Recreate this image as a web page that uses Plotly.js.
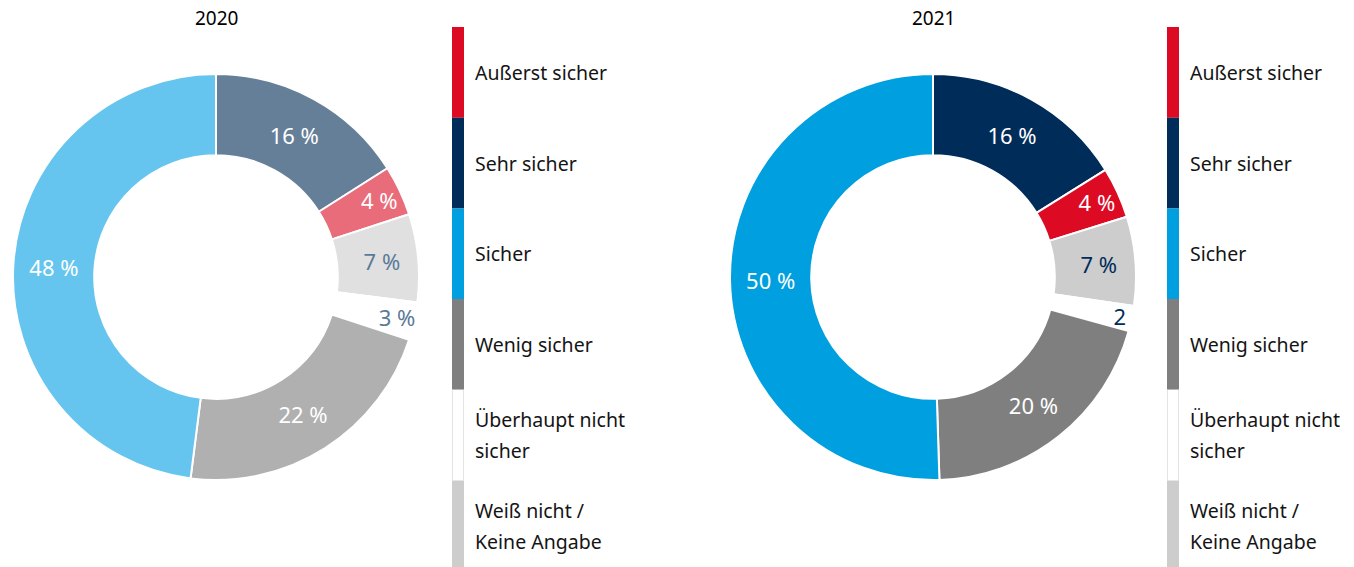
<!DOCTYPE html>
<html>
<head>
<meta charset="utf-8">
<script src="https://cdn.plot.ly/plotly-3.0.1.min.js"></script>
<style>
html,body{margin:0;padding:0;background:#fff;}
#chart{width:1354px;height:567px;}
</style>
</head>
<body>
<div id="chart"></div>
<script>
// ---- data ----
const years = ['2020', '2021'];
const sliceLabels = ['Sehr sicher', 'Außerst sicher', 'Weiß nicht / Keine Angabe', 'Überhaupt nicht sicher', 'Wenig sicher', 'Sicher'];
const values2020 = [16, 4, 7, 3, 22, 48];
const values2021 = [16, 4, 7, 2, 20, 50];
const legendCategories = ['Außerst sicher', 'Sehr sicher', 'Sicher', 'Wenig sicher', 'Überhaupt nicht\nsicher', 'Weiß nicht /\nKeine Angabe'];

// ---- styles ----
const colors2020 = ['#667f99', '#e96c7b', '#e0e0e0', '#ffffff', '#b0b0b0', '#66c5ee'];
const colors2021 = ['#002c59', '#dc0a23', '#cdcdcd', '#ffffff', '#7f7f7f', '#009fe0'];
const textColors2020 = ['#ffffff', '#ffffff', '#5b7a98', '#5b7a98', '#ffffff', '#ffffff'];
const textColors2021 = ['#ffffff', '#ffffff', '#002c59', '#002c59', '#ffffff', '#ffffff'];
const templates2020 = ['%{value} %', '%{value} %', '%{value} %', '%{value} %', '%{value} %', '%{value} %'];
const templates2021 = ['%{value} %', '%{value} %', '%{value} %', '%{value}', '%{value} %', '%{value} %'];
const legendColors = ['#dc0a23', '#002c59', '#009fe0', '#7f7f7f', '#ffffff', '#cdcdcd'];

const W = 1354, H = 567;
const FONT = 'Noto Sans, sans-serif';
const R = 203;
const centers = [[216, 277], [933, 277]];
const legendX = [452, 1167];

function domainFor(c) {
  return {
    x: [(c[0] - R) / W, (c[0] + R) / W],
    y: [(H - c[1] - R) / H, (H - c[1] + R) / H]
  };
}

const traces = [
  {values: values2020, colors: colors2020, tc: textColors2020, tt: templates2020},
  {values: values2021, colors: colors2021, tc: textColors2021, tt: templates2021}
].map((d, i) => ({
  type: 'pie',
  labels: sliceLabels,
  values: d.values,
  sort: false,
  direction: 'clockwise',
  rotation: 0,
  hole: 0.6,
  domain: domainFor(centers[i]),
  marker: {colors: d.colors, line: {color: '#ffffff', width: 2}},
  textinfo: 'value',
  texttemplate: d.tt,
  textposition: 'inside',
  insidetextorientation: 'horizontal',
  textfont: {family: FONT, size: 22, color: d.tc},
  hoverinfo: 'label+value',
  showlegend: false
}));

const shapes = [];
const annotations = [];
const segH = 90.7, segTop = 27;
years.forEach((yr, k) => {
  annotations.push({
    xref: 'paper', yref: 'paper', x: centers[k][0] / W, y: 1 - 18 / H,
    xanchor: 'center', yanchor: 'middle', showarrow: false,
    text: yr, font: {family: FONT, size: 19, color: '#000000'}
  });
  legendCategories.forEach((cat, i) => {
    const y0 = segTop + i * segH, y1 = y0 + segH;
    const x0 = legendX[k], x1 = x0 + 12;
    shapes.push({
      type: 'rect', xref: 'paper', yref: 'paper',
      x0: x0 / W, x1: x1 / W, y0: 1 - y1 / H, y1: 1 - y0 / H,
      fillcolor: legendColors[i], line: {width: 0}, layer: 'above'
    });
    if (legendColors[i] === '#ffffff') {
      [x0 + 0.5, x1 - 0.5].forEach(xx => shapes.push({
        type: 'line', xref: 'paper', yref: 'paper',
        x0: xx / W, x1: xx / W, y0: 1 - y1 / H, y1: 1 - y0 / H,
        line: {color: '#e4e4e4', width: 1}
      }));
    }
    const lines = cat.split('\n');
    const mid = (y0 + y1) / 2;
    const lh = 31;
    lines.forEach((ln, j) => {
      const yy = mid + (j - (lines.length - 1) / 2) * lh;
      annotations.push({
        xref: 'paper', yref: 'paper', x: (x1 + 9) / W, y: 1 - yy / H,
        xanchor: 'left', yanchor: 'middle', showarrow: false,
        text: ln, font: {family: FONT, size: 19.5, color: '#141414'}
      });
    });
  });
});

const layout = {
  width: W, height: H,
  margin: {l: 0, r: 0, t: 0, b: 0},
  paper_bgcolor: '#ffffff', plot_bgcolor: '#ffffff',
  showlegend: false,
  uniformtext: {mode: 'show', minsize: 22},
  shapes: shapes,
  annotations: annotations,
  font: {family: FONT}
};

Plotly.newPlot('chart', traces, layout, {displayModeBar: false, staticPlot: true});
</script>
</body>
</html>
